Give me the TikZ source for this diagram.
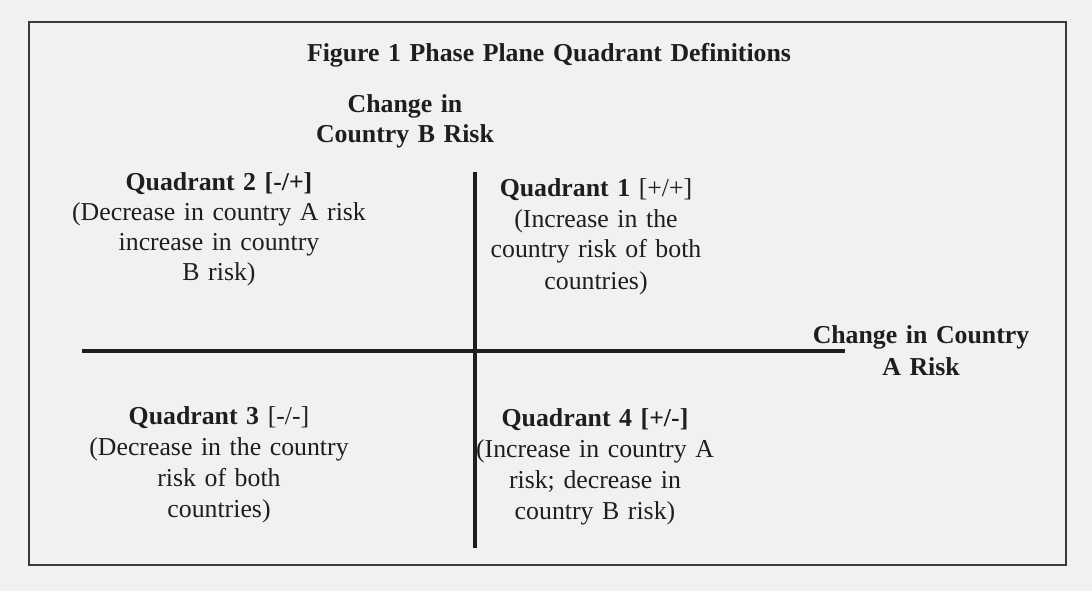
\documentclass[tikz,border=0pt]{standalone}
\usepackage{fontspec}
\setmainfont{Liberation Serif}
\begin{document}
\begin{tikzpicture}[x=1pt,y=-1pt,
  txt/.style={anchor=base, align=center, text width=640pt, inner sep=0pt,
    text=ink, font={\fontsize{25.8}{31}\selectfont}},
  axis/.style={draw=ink, line width=4pt},
  frame/.style={draw=framegray, line width=1.5pt}]
\definecolor{ink}{HTML}{1E1E1E}
\definecolor{framegray}{HTML}{3A3A3A}
\definecolor{paper}{HTML}{F1F1F1}
\useasboundingbox[fill=paper] (0,0) rectangle (1092,591);
\draw[frame] (29,22) rectangle (1066,565);
% axes
\coordinate (hl) at (82,351);
\coordinate (hr) at (845,351);
\coordinate (vt) at (475,172);
\coordinate (vb) at (475,548);
\draw[axis] (hl) -- (hr);
\draw[axis] (vt) -- (vb);
% labels
\node[txt] (title) at (549,62) {\textbf{Figure 1 Phase Plane Quadrant Definitions}};
\node[txt, font={\fontsize{25.8}{30}\selectfont}] (ylab) at (405,113) {\textbf{Change in}\\\textbf{Country B Risk}};
\node[txt, font={\fontsize{25.8}{32}\selectfont}] (xlab) at (921,343) {\textbf{Change in Country}\\\textbf{A Risk}};
\node[txt, font={\fontsize{25.8}{30.3}\selectfont}] (q2) at (219,190) {\textbf{Quadrant 2 [-/+]}\\(Decrease in country A risk\\increase in country\\B risk)};
\node[txt] (q1) at (596,196) {\textbf{Quadrant 1} [+/+]\\(Increase in the\\country risk of both\\countries)};
\node[txt] (q3) at (219,424) {\textbf{Quadrant 3} [-/-]\\(Decrease in the country\\risk of both\\countries)};
\node[txt] (q4) at (595,426) {\textbf{Quadrant 4 [+/-]}\\(Increase in country A\\risk; decrease in\\country B risk)};
\end{tikzpicture}
\end{document}
